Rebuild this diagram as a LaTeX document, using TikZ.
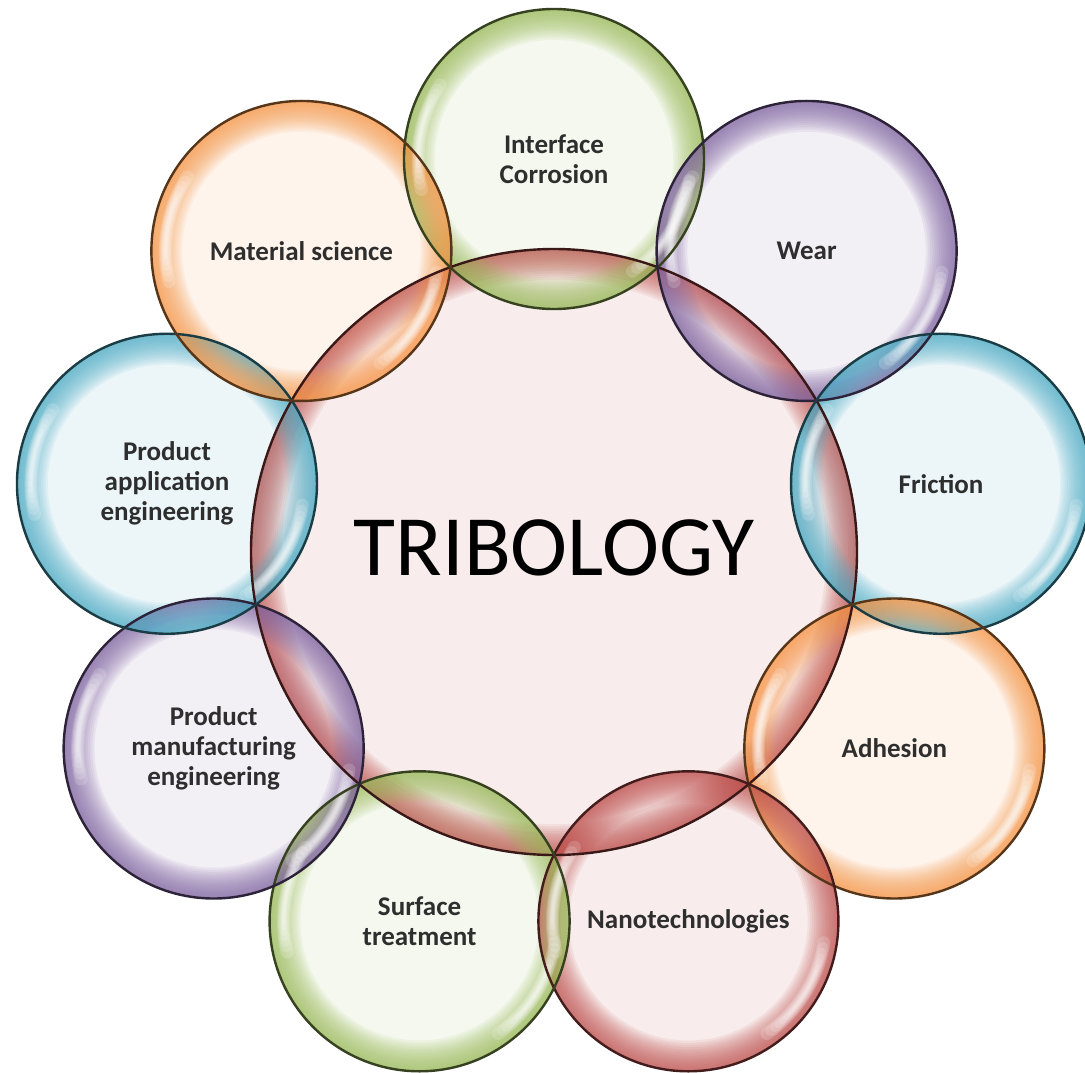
\documentclass[tikz,border=0pt]{standalone}
\usepackage{fontspec}
\setmainfont{Carlito}
\usetikzlibrary{calc}

% Office-style theme colours
\definecolor{oGreen}{HTML}{9BBB59}
\definecolor{oPurple}{HTML}{8064A2}
\definecolor{oBlue}{HTML}{4BACC6}
\definecolor{oOrange}{HTML}{F79646}
\definecolor{oRed}{HTML}{C0504D}

% angle / colour / name / label of the surrounding bubbles
\def\bubbles{%
  -90/oGreen/ic/{Interface\\Corrosion},
  -50/oPurple/wear/{Wear},
  -10/oBlue/fric/{Friction},
  30/oOrange/adh/{Adhesion},
  70/oRed/nano/{Nanotechnologies},
  110/oGreen/surf/{Surface\\treatment},
  150/oPurple/pme/{Product\\manufacturing\\engineering},
  -170/oBlue/pae/{Product\\application\\engineering},
  -130/oOrange/mat/{Material science}}

% translucent bubble: pale body plus a rim that deepens toward the edge
% #1 centre, #2 radius, #3 colour
\newcommand\glassdisc[3]{%
  \fill[#3, opacity=.10] (#1) circle[radius=#2];
  \foreach \k in {1,...,14}{%
    \draw[#3, opacity=.09, line width={2.2*\k}] (#1) circle[radius={#2-1.1*\k}];
  }%
}

% soft white gleam along an arc: #1 centre, #2 middle angle, #3 radius
\newcommand\gleam[3]{%
  \foreach \w/\s in {13/23,11/21,9/19,7/17,5.5/15,4/13,2.5/11}{%
    \draw[white, line cap=round, opacity=.17, line width=\w]
      ($(#1)+({#2-\s}:#3)$) arc[start angle={#2-\s}, end angle={#2+\s}, radius=#3];
  }%
}

\begin{document}
\begin{tikzpicture}[x=1pt,y=-1pt,
  rim/.style={line width=2.4pt},
  lab/.style={font=\fontsize{27}{30}\selectfont\bfseries, text=black!82,
    align=center, inner sep=0pt},
  title/.style={font=\fontsize{86}{90}\selectfont, text=black, inner sep=0pt}]

\useasboundingbox[fill=white] (0,0) rectangle (1085,1073);

\coordinate (hub) at (554,552);
\foreach \a/\c/\n/\t in \bubbles {
  \coordinate (\n) at ($(hub)+(\a:393)$);
}

% central disc
\glassdisc{hub}{303}{oRed}

% surrounding bubbles
\foreach \a/\c/\n/\t in \bubbles {
  \glassdisc{\n}{150}{\c}
}

% glossy highlights on the left and lower-right inner sides
\foreach \a/\c/\n/\t in \bubbles {
  \gleam{\n}{190}{136}
  \gleam{\n}{32}{137}
}

% outlines
\draw[rim, draw=oRed!30!black] (hub) circle[radius=303];
\foreach \a/\c/\n/\t in \bubbles {
  \draw[rim, draw=\c!35!black] (\n) circle[radius=150];
}

% labels
\foreach \a/\c/\n/\t in \bubbles {
  \node[lab] (\n-text) at (\n) {\t};
}
\node[title] (core) at (554,548) {TRIBOLOGY};
\end{tikzpicture}
\end{document}
